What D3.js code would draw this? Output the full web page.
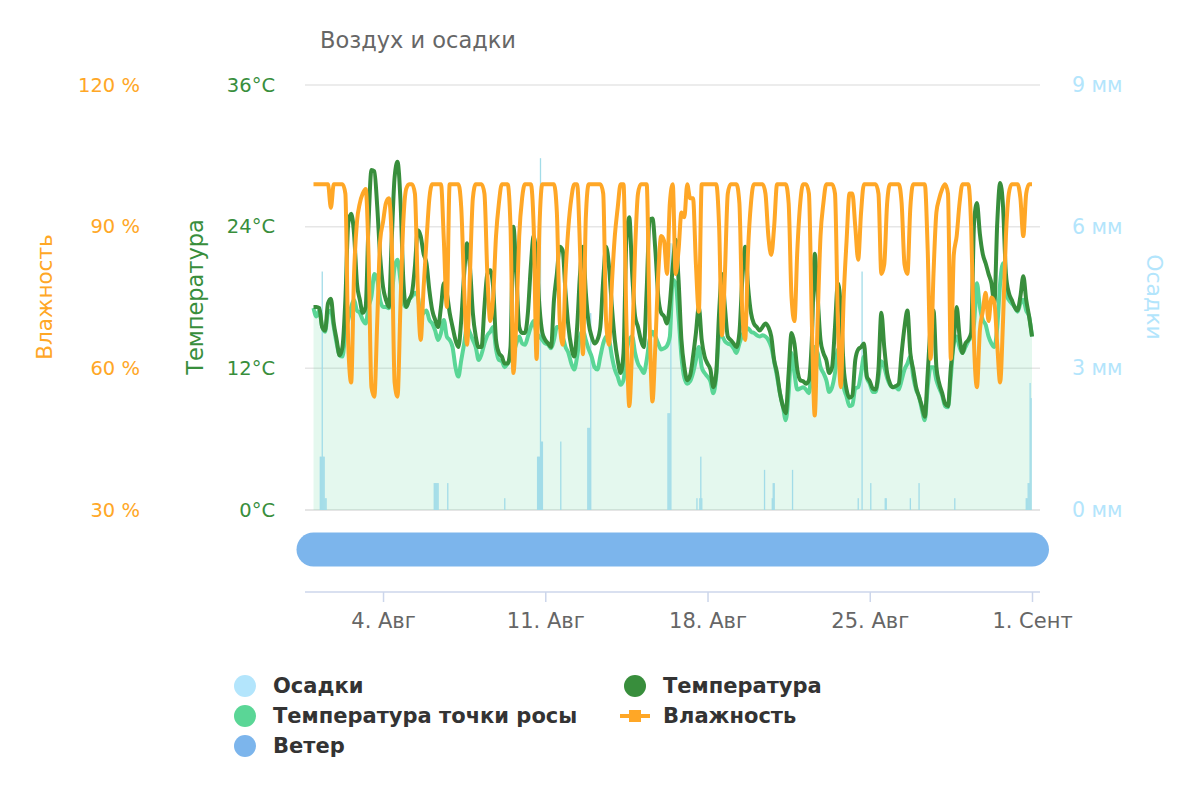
<!DOCTYPE html>
<html>
<head>
<meta charset="utf-8">
<script src="https://cdn.jsdelivr.net/npm/d3@7/dist/d3.min.js"></script>
<style>
body { margin: 0; background: #fff; }
svg text { font-family: "DejaVu Sans", sans-serif; }
</style>
</head>
<body>
<div id="chart" style="width:1200px;height:800px"></div>
<script>
// readings every 3 hours, starting 1 Aug 00:00
const startDate = new Date(2023, 7, 1, 0, 0);
const endDate = new Date(2023, 8, 1, 0, 0);

const humidity = [
  99,99,99,99,99,99,94,99, 99,99,99,97,65,57,80,91,
  95,97,98,84,56,54,70,87, 91,95,96,87,57,54,73,91,
  98,99,99,97,77,66,77,87, 96,99,99,99,99,87,73,99,
  99,99,99,94,77,65,80,96, 99,99,99,97,80,70,75,88,
  95,99,99,99,90,59,70,88, 96,99,99,99,90,62,90,99,
  99,99,99,99,93,70,65,80, 90,96,99,99,85,63,92,99,
  99,99,99,99,97,70,65,78, 88,94,99,99,70,52,65,85,
  97,99,99,99,70,53,65,80, 88,87,80,95,99,80,85,93,
  92,99,96,96,82,72,99,99, 99,99,99,99,90,67,80,97,
  99,99,99,95,72,66,85,95, 99,99,99,99,97,88,84,90,
  99,99,99,99,95,75,70,85, 95,99,99,97,70,50,70,88,
  95,99,99,99,97,70,56,75, 87,97,97,90,83,93,99,99,
  99,99,99,97,80,82,95,99, 99,99,99,95,82,80,94,99,
  99,99,99,99,85,62,80,93, 96,98,99,97,62,84,88,95,
  99,99,99,90,65,56,68,72, 76,70,75,74,65,57,70,88,
  97,99,99,99,96,88,97,99,99
];

const temperature = [
  17.2,17.2,17.1,15.5,15.2,17.5,17.9,15.8, 14.4,13.1,13.8,17.8,24.3,25.1,23.4,19.2,
  17.8,16.7,17.2,24.3,28.8,28.7,25.7,21.5, 18.9,17.8,17.2,22.9,28.2,29.5,26.3,19.5,
  17.2,17.8,18.4,20.6,23.7,23.2,21.7,20.9, 18.6,16.9,16.1,15.5,17.2,19.2,18.4,16.7,
  15.5,14.4,13.8,16.1,20.0,22.6,20.6,16.7, 14.7,13.8,13.8,17.2,20.0,20.3,18.9,14.4,
  13.3,13.0,12.4,12.4,13.8,24.0,20.0,15.5, 15.0,15.0,16.7,20.6,23.2,21.2,17.2,15.0,
  14.4,14.1,13.8,17.8,20.0,22.3,22.0,18.4, 15.5,13.8,13.0,15.5,20.0,22.3,18.4,15.8,
  14.7,14.1,14.4,15.5,19.5,22.3,20.6,17.2, 14.4,12.7,11.6,13.3,22.9,24.8,20.0,16.4,
  15.5,14.4,13.8,18.6,24.6,24.7,22.0,18.1, 16.7,16.4,15.8,17.5,20.6,22.9,19.5,14.4,
  12.1,11.0,11.4,13.0,15.0,17.2,14.4,13.0, 12.4,11.9,10.4,11.6,16.7,20.0,17.2,14.7,
  14.4,14.1,13.8,15.0,19.5,22.3,18.9,16.7, 15.8,15.5,15.2,15.5,15.8,15.5,14.7,12.7,
  11.6,9.9,8.8,8.2,11.6,15.0,14.1,11.9, 11.0,10.9,10.7,11.0,14.4,21.7,18.1,14.4,
  13.3,12.7,11.6,12.1,15.5,19.2,17.2,12.1, 10.2,9.5,9.7,12.7,13.6,13.8,14.1,11.3,
  10.9,10.3,10.2,11.9,16.7,13.8,11.6,10.7, 10.4,10.5,10.7,13.3,15.5,16.9,13.3,11.9,
  10.4,9.6,8.8,7.9,11.6,15.5,16.9,12.1, 10.7,9.9,9.0,8.8,12.1,14.4,17.2,14.7,
  13.3,14.1,14.4,15.0,24.3,26.0,23.4,21.7, 20.9,20.0,19.2,17.5,24.3,27.7,25.7,20.0,
  18.4,17.8,17.2,16.9,18.1,19.8,17.8,16.4,14.7
];

const dewPoint = [
  17.1,16.4,16.9,15.5,15.1,16.7,16.9,15.5, 14.1,13.1,13.0,15.0,16.1,17.2,17.8,16.9,
  16.7,16.1,15.8,17.2,18.1,20.0,19.5,17.8, 17.2,17.2,17.1,18.1,20.6,21.2,19.5,17.5,
  17.2,17.8,18.1,18.4,18.1,16.4,16.7,16.9, 16.1,15.8,15.2,14.4,15.0,16.1,14.7,14.4,
  13.8,12.1,11.3,12.7,14.1,15.5,15.0,14.4, 13.8,12.7,13.2,14.1,14.8,15.1,15.5,13.6,
  12.7,12.6,12.1,12.4,12.8,13.3,14.1,14.7, 14.1,14.0,14.7,15.5,16.0,15.0,14.7,14.4,
  14.1,14.0,13.7,14.4,15.5,15.5,14.7,13.8, 13.3,12.4,11.9,13.0,14.7,15.2,14.4,13.6,
  13.0,12.1,11.9,13.0,14.1,14.7,14.4,13.0, 11.9,11.3,10.6,11.0,13.3,14.4,14.7,13.3,
  12.4,12.0,11.6,12.7,14.4,15.1,14.7,14.1, 13.6,13.7,13.9,14.7,19.5,19.2,16.4,13.0,
  11.2,10.7,10.9,11.6,12.7,13.8,12.1,11.6, 11.3,10.9,9.9,11.3,14.7,14.7,14.3,14.1,
  14.0,13.7,13.3,14.1,14.8,15.2,15.4,15.1, 15.0,14.8,14.7,14.8,14.7,14.4,13.8,12.6,
  11.3,9.9,8.8,7.6,9.9,13.3,11.6,10.2, 10.3,10.4,10.2,9.9,12.1,13.8,13.3,12.1,
  11.6,11.0,10.0,10.4,11.6,13.6,12.4,10.4, 9.6,8.8,8.9,10.3,10.4,11.6,13.0,11.2,
  10.7,10.0,10.0,11.2,12.6,12.1,11.2,10.6, 10.4,10.4,10.2,11.0,11.9,12.4,13.0,11.3,
  10.2,9.6,8.5,7.6,10.4,12.1,12.1,11.0, 10.3,9.7,8.8,8.7,11.3,14.1,14.7,13.8,
  13.3,13.8,14.3,14.7,15.8,19.2,17.2,16.1, 15.7,14.7,14.1,13.8,15.5,19.2,20.9,18.4,
  17.8,17.5,17.2,16.8,17.5,17.8,16.9,16.4,14.7
];

// hourly precipitation: hour offset from start and amount in mm
const precipHours = [7,8,9,10,11,12,13, 125,126,127,128,129, 139, 198,
  232,233,234,235,236,237, 256, 284,285,286,287, 367,368,369,370,
  397, 400,401,402, 467, 475,476,477, 496, 564, 568, 577, 592,593,
  618, 627, 664, 738,739,740,741,742,743];
const precipValues = [1.13,1.13,5.05,1.13,1.13,0.25,0.25, 0.57,0.57,0.57,0.57,0.57, 0.57, 0.25,
  1.13,1.13,1.13,7.45,1.45,1.45, 1.45, 1.74,1.74,1.74,4.17, 2.05,2.05,2.05,5.65,
  0.25, 0.25,1.13,0.25, 0.85, 0.25,0.57,0.57, 0.85, 0.25, 5.05, 0.57, 0.25,0.25,
  0.25, 0.57, 0.25, 0.25,0.25,0.57,0.57,2.69,2.37];

const windDates = [startDate, endDate];
const windLevel = [0, 0];

const dateTicks = [new Date(2023, 7, 4), new Date(2023, 7, 11), new Date(2023, 7, 18),
  new Date(2023, 7, 25), new Date(2023, 8, 1)];
const monthNames = ['Янв', 'Фев', 'Март', 'Апр', 'Май', 'Июнь', 'Июль', 'Авг', 'Сент', 'Окт', 'Нояб', 'Дек'];
const humidityTicks = [30, 60, 90, 120];
const temperatureTicks = [0, 12, 24, 36];
const precipTicks = [0, 3, 6, 9];

const legendItems = [
  {name: 'Осадки', color: '#b3e5fc', type: 'circle', col: 0, row: 0},
  {name: 'Температура', color: '#388e3c', type: 'circle', col: 1, row: 0},
  {name: 'Температура точки росы', color: '#5ad696', type: 'circle', col: 0, row: 1},
  {name: 'Влажность', color: '#ffa726', type: 'line', col: 1, row: 1},
  {name: 'Ветер', color: '#7cb5ec', type: 'circle', col: 0, row: 2}
];

class WeatherChart {

  constructor(opts) {
    this.element = opts.element;
    this.colors = {
      humidity: '#ffa726',
      temperature: '#388e3c',
      dew: '#5ad696',
      precip: '#a2dce8',
      precipLabel: '#b3e5fc',
      wind: '#7cb5ec'
    };
    this.create();
  }

  create() {
    this.svg = d3.select(this.element).append('svg')
      .attr('width', 1200).attr('height', 800);

    this.x = d3.scaleTime().domain([startDate, endDate]).range([313.5, 1032]);
    this.yT = d3.scaleLinear().domain([0, 36]).range([510, 85]);
    this.yH = d3.scaleLinear().domain([30, 120]).range([510, 85]);
    this.yP = d3.scaleLinear().domain([0, 9]).range([510, 85]);
    this.yW = d3.scaleLinear().domain([-1, 1]).range([566, 533]);

    this.timeAt = i => d3.timeHour.offset(startDate, 3 * i);

    this.drawGrid();
    this.drawSeries();
    this.drawWind();
    this.drawAxes();
    this.drawLegend();
  }

  drawGrid() {
    this.svg.append('g').selectAll('line')
      .data(temperatureTicks)
      .join('line')
      .attr('x1', 305).attr('x2', 1040)
      .attr('y1', d => this.yT(d)).attr('y2', d => this.yT(d))
      .attr('stroke', (d, i) => i == 0 ? '#dcdcdc' : '#e6e6e6')
      .attr('stroke-width', 1.5);

    this.svg.append('text')
      .attr('x', 320).attr('y', 48)
      .attr('font-size', 22.5).attr('fill', '#666')
      .text('Воздух и осадки');
  }

  drawSeries() {
    const x = this.x;
    const g = this.svg.append('g');

    // dew point area
    const area = d3.area()
      .x((d, i) => x(this.timeAt(i)))
      .y0(this.yT(0))
      .y1(d => this.yT(d))
      .curve(d3.curveMonotoneX);
    g.append('path').datum(dewPoint)
      .attr('d', area)
      .attr('fill', this.colors.dew).attr('fill-opacity', 0.16);

    // precipitation columns
    g.append('g').selectAll('rect')
      .data(precipHours)
      .join('rect')
      .attr('x', d => x(d3.timeHour.offset(startDate, d)) - 0.6)
      .attr('width', 1.3)
      .attr('y', (d, i) => this.yP(precipValues[i]))
      .attr('height', (d, i) => this.yP(0) - this.yP(precipValues[i]))
      .attr('fill', this.colors.precip);

    const lineT = d3.line()
      .x((d, i) => x(this.timeAt(i)))
      .y(d => this.yT(d))
      .curve(d3.curveMonotoneX);
    const lineH = d3.line()
      .x((d, i) => x(this.timeAt(i)))
      .y(d => this.yH(d))
      .curve(d3.curveMonotoneX);

    g.append('path').datum(dewPoint)
      .attr('d', lineT)
      .attr('fill', 'none').attr('stroke', this.colors.dew)
      .attr('stroke-width', 4).attr('stroke-linejoin', 'round');
    g.append('path').datum(temperature)
      .attr('d', lineT)
      .attr('fill', 'none').attr('stroke', this.colors.temperature)
      .attr('stroke-width', 4).attr('stroke-linejoin', 'round');
    g.append('path').datum(humidity)
      .attr('d', lineH)
      .attr('fill', 'none').attr('stroke', this.colors.humidity)
      .attr('stroke-width', 4).attr('stroke-linejoin', 'round');
  }

  drawWind() {
    const line = d3.line()
      .x((d, i) => this.x(windDates[i]))
      .y(d => this.yW(d));
    this.svg.append('path').datum(windLevel)
      .attr('d', line)
      .attr('stroke', this.colors.wind)
      .attr('stroke-width', 34)
      .attr('stroke-linecap', 'round')
      .attr('fill', 'none');
  }

  drawAxes() {
    const fmt = d => d.getDate() + '. ' + monthNames[d.getMonth()];

    // bottom date axis
    this.svg.append('line')
      .attr('x1', 305).attr('x2', 1040).attr('y1', 592).attr('y2', 592)
      .attr('stroke', '#ccd6eb').attr('stroke-width', 1.5);
    const xAxis = this.svg.append('g')
      .attr('transform', 'translate(0,592)')
      .call(d3.axisBottom(this.x).tickValues(dateTicks).tickFormat(fmt)
        .tickSize(10).tickPadding(11));
    xAxis.select('.domain').remove();
    xAxis.selectAll('line').attr('stroke', '#ccd6eb').attr('stroke-width', 1.5);
    xAxis.selectAll('text').attr('font-size', 21).attr('fill', '#666')
      .attr('font-family', '"DejaVu Sans", sans-serif');

    const sideAxis = (axis, pos, color, size) => {
      const g = this.svg.append('g')
        .attr('transform', 'translate(' + pos + ',0)')
        .call(axis.tickSize(0).tickPadding(0));
      g.select('.domain').remove();
      g.selectAll('text').attr('font-size', size).attr('fill', color)
        .attr('font-family', '"DejaVu Sans", sans-serif');
      return g;
    };
    sideAxis(d3.axisLeft(this.yH).tickValues(humidityTicks).tickFormat(d => d + ' %'), 140, this.colors.humidity, 19.5);
    sideAxis(d3.axisLeft(this.yT).tickValues(temperatureTicks).tickFormat(d => d + '°C'), 275, this.colors.temperature, 19.5);
    sideAxis(d3.axisRight(this.yP).tickValues(precipTicks).tickFormat(d => d + ' мм'), 1072, this.colors.precipLabel, 20.5);

    // axis titles
    this.svg.append('text')
      .attr('transform', 'translate(52,297) rotate(-90)')
      .attr('text-anchor', 'middle').attr('font-size', 21.5)
      .attr('fill', this.colors.humidity).text('Влажность');
    this.svg.append('text')
      .attr('transform', 'translate(203,297) rotate(-90)')
      .attr('text-anchor', 'middle').attr('font-size', 22.5)
      .attr('fill', this.colors.temperature).text('Температура');
    this.svg.append('text')
      .attr('transform', 'translate(1147,297) rotate(90)')
      .attr('text-anchor', 'middle').attr('font-size', 22)
      .attr('fill', this.colors.precipLabel).text('Осадки');
  }

  drawLegend() {
    const colX = [245, 635];
    const rowY = [686, 716, 746];
    const items = this.svg.append('g').selectAll('g')
      .data(legendItems)
      .join('g')
      .attr('transform', d => 'translate(' + colX[d.col] + ',' + rowY[d.row] + ')');

    items.filter(d => d.type == 'circle').append('circle')
      .attr('r', 11).attr('fill', d => d.color);
    const lineItems = items.filter(d => d.type == 'line');
    lineItems.append('line')
      .attr('x1', -15).attr('x2', 15)
      .attr('stroke', d => d.color).attr('stroke-width', 4);
    lineItems.append('rect')
      .attr('x', -6).attr('y', -6).attr('width', 12).attr('height', 12)
      .attr('fill', d => d.color);

    items.append('text')
      .attr('x', 28).attr('dy', '0.35em')
      .attr('font-size', 21).attr('font-weight', 'bold').attr('fill', '#333')
      .text(d => d.name);
  }
}

new WeatherChart({element: document.getElementById('chart')});
</script>
</body>
</html>
